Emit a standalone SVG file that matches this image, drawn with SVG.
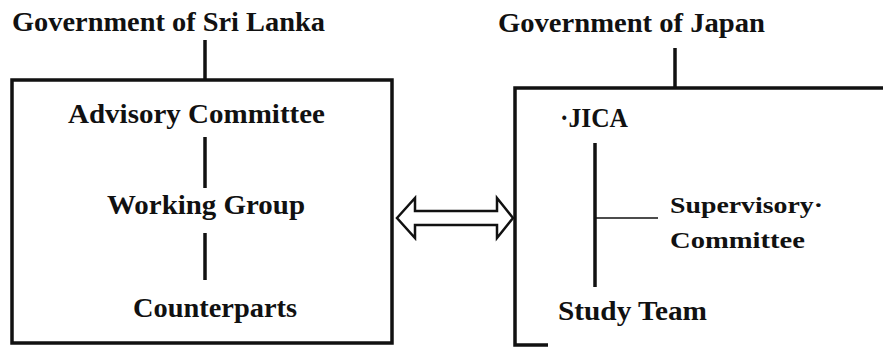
<svg xmlns="http://www.w3.org/2000/svg" width="883" height="349" viewBox="0 0 883 349">
<style>
text{font-family:"Liberation Serif","Times New Roman",serif;font-weight:bold;fill:#111;}
.t{font-size:27px;}
.s{font-size:24px;}
.box{fill:none;stroke:#111;stroke-width:3.5;}
.ln{stroke:#111;stroke-width:3.5;fill:none;}
.thin{stroke:#111;stroke-width:1.6;fill:none;}
</style>
<rect width="883" height="349" fill="#fff"/>
<g id="gov-sri-lanka">
<text class="t" x="12" y="31" textLength="313" lengthAdjust="spacingAndGlyphs">Government of Sri Lanka</text>
</g>
<g id="gov-japan">
<text class="t" x="498" y="32" textLength="267" lengthAdjust="spacingAndGlyphs">Government of Japan</text>
</g>
<g id="sri-lanka-box">
<rect class="box" x="12" y="80" width="380" height="263"/>
</g>
<g id="japan-box">
<path class="box" d="M548 345 H515 V88 H890"/>
</g>
<g id="advisory">
<text class="t" x="68" y="123" textLength="257" lengthAdjust="spacingAndGlyphs">Advisory Committee</text>
</g>
<g id="working">
<text class="t" x="107" y="214" textLength="198" lengthAdjust="spacingAndGlyphs">Working Group</text>
</g>
<g id="counterparts">
<text class="t" x="133" y="317" textLength="164" lengthAdjust="spacingAndGlyphs">Counterparts</text>
</g>
<g id="jica">
<text class="t" x="560" y="127" textLength="68" lengthAdjust="spacingAndGlyphs">·JICA</text>
</g>
<g id="supervisory">
<text class="s" x="670" y="213" textLength="153" lengthAdjust="spacingAndGlyphs">Supervisory·</text>
<text class="s" x="670" y="248" textLength="135" lengthAdjust="spacingAndGlyphs">Committee</text>
</g>
<g id="study-team">
<text class="t" x="558" y="320" textLength="149" lengthAdjust="spacingAndGlyphs">Study Team</text>
</g>
<g id="connectors">
<line class="ln" x1="205" y1="40" x2="205" y2="80"/>
<line class="ln" x1="675" y1="48" x2="675" y2="88"/>
<line class="ln" x1="205" y1="137" x2="205" y2="188"/>
<line class="ln" x1="205" y1="233" x2="205" y2="280"/>
<line class="ln" x1="595" y1="143" x2="595" y2="287"/>
<line class="thin" x1="595" y1="218" x2="658" y2="218"/>
<path d="M397 218 L415 198 L415 211 L497 211 L497 198 L513 218 L497 238 L497 225 L415 225 L415 238 Z" fill="#fff" stroke="#111" stroke-width="2.5" stroke-linejoin="miter"/>
</g>
</svg>
